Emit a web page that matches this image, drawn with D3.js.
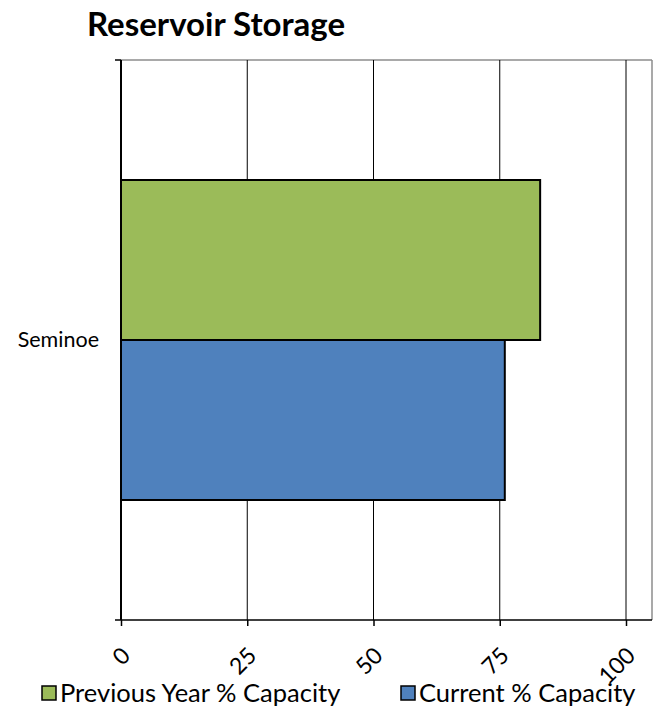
<!DOCTYPE html>
<html>
<head>
<meta charset="utf-8">
<script src="https://cdn.jsdelivr.net/npm/d3@7"></script>
<style>
  body { margin: 0; background: #fff; }
  svg { display: block; }
  svg text { font-family: Lato, "Open Sans", sans-serif; }
</style>
</head>
<body>
<svg id="chart" width="655" height="711"></svg>
<script>
// Reservoir storage, percent of capacity
const categories = ["Seminoe"];
const seriesNames = ["Previous Year % Capacity", "Current % Capacity"];
const previousYear = [83];
const current = [76];
const tickValues = [0, 25, 50, 75, 100];
const colors = ["#9bbb59", "#4f81bd"];

const svg = d3.select("#chart");
const margin = { top: 60, left: 121 };
const plotW = 652 - margin.left, plotH = 620 - margin.top;

svg.append("text")
  .attr("x", 87).attr("y", 36)
  .attr("font-size", 33).attr("font-weight", "bold")
  .attr("fill", "#000")
  .text("Reservoir Storage");

const g = svg.append("g").attr("transform", `translate(${margin.left},${margin.top})`);

const x = d3.scaleLinear().domain([0, 100]).range([0, 505]);
const y = d3.scaleBand().domain(categories).range([0, plotH]);
// gap width 75% of a bar: the bar group fills bandwidth / 1.75, centred
const gap = y.bandwidth() * 0.375 / 1.75;
const inner = d3.scaleBand().domain(seriesNames).range([gap, y.bandwidth() - gap]);

// plot area border (top and right)
g.append("line").attr("x1", 0).attr("x2", plotW).attr("y1", 0).attr("y2", 0)
  .attr("stroke", "#8c8c8c").attr("stroke-width", 1.5);
g.append("line").attr("x1", plotW).attr("x2", plotW).attr("y1", 0).attr("y2", plotH)
  .attr("stroke", "#8c8c8c").attr("stroke-width", 1.5);

// vertical gridlines
g.selectAll(".grid").data(tickValues.slice(1)).join("line")
  .attr("x1", d => x(d)).attr("x2", d => x(d))
  .attr("y1", 0).attr("y2", plotH)
  .attr("stroke", "#000").attr("stroke-width", 1);

// bars
const rows = categories.map((c, i) => ({ cat: c, values: [previousYear[i], current[i]] }));
rows.forEach(r => {
  g.selectAll(null).data(r.values.map((v, j) => ({ v, s: seriesNames[j], j }))).join("rect")
    .attr("x", 0)
    .attr("y", d => y(r.cat) + inner(d.s))
    .attr("width", d => x(d.v))
    .attr("height", inner.bandwidth())
    .attr("fill", d => colors[d.j])
    .attr("stroke", "#000").attr("stroke-width", 2);
});

// x axis
const xAxis = g.append("g").attr("transform", `translate(0,${plotH})`)
  .call(d3.axisBottom(x).tickValues(tickValues).tickSize(6).tickSizeOuter(0));
xAxis.attr("font-family", null);
xAxis.select(".domain").attr("stroke", "#000").attr("stroke-width", 1.5).attr("d", `M0,0H${plotW}`);
xAxis.selectAll(".tick line").attr("stroke", "#000").attr("stroke-width", 1.5);
xAxis.selectAll(".tick text")
  .attr("font-size", 23).attr("fill", "#000")
  .attr("text-anchor", "end")
  .attr("dy", null)
  .attr("x", 0).attr("y", 0)
  .attr("dominant-baseline", "middle")
  .attr("transform", "translate(6,33) rotate(-45)");

// y axis
const yAxis = g.append("g")
  .call(d3.axisLeft(y).tickSize(0).tickPadding(22));
yAxis.attr("font-family", null);
yAxis.select(".domain").attr("stroke", "#000").attr("stroke-width", 2).attr("d", `M0,0V${plotH}`);
yAxis.selectAll(".tick text").attr("font-size", 21.5).attr("fill", "#000");
// category boundary ticks
g.selectAll(".ybound").data([0, plotH]).join("line")
  .attr("x1", -6).attr("x2", 0).attr("y1", d => d).attr("y2", d => d)
  .attr("stroke", "#000").attr("stroke-width", 1.5);

// legend
const legendItems = [
  { name: seriesNames[0], color: colors[0], x: 42 },
  { name: seriesNames[1], color: colors[1], x: 401 }
];
const lg = svg.append("g");
legendItems.forEach(it => {
  lg.append("rect").attr("x", it.x).attr("y", 686).attr("width", 14).attr("height", 14)
    .attr("fill", it.color).attr("stroke", "#000").attr("stroke-width", 1.5);
  lg.append("text").attr("x", it.x + 18).attr("y", 702)
    .attr("font-size", 25.5).attr("fill", "#000").text(it.name);
});
</script>
</body>
</html>
